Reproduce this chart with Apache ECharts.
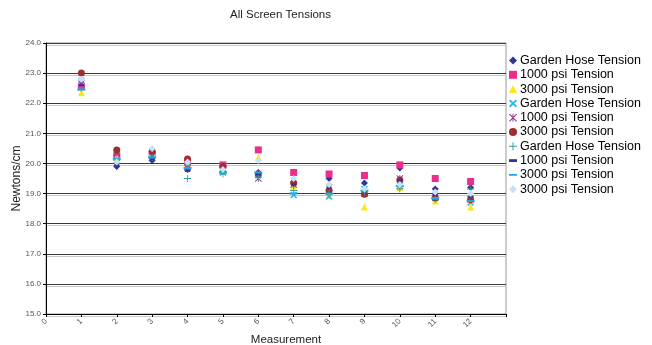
<!DOCTYPE html>
<html><head><meta charset="utf-8">
<script src="https://cdn.jsdelivr.net/npm/echarts@6/dist/echarts.min.js"></script>
<style>html,body{margin:0;padding:0;background:#fff;overflow:hidden}#c{width:652px;height:345px}</style>
</head><body><div id="c"></div>
<script>
const measurements = [1,2,3,4,5,6,7,8,9,10,11,12];
const xTickLabels = ['0','1','2','3','4','5','6','7','8','9','10','11','12'];
const seriesNames = ['Garden Hose Tension','1000 psi Tension','3000 psi Tension','Garden Hose Tension','1000 psi Tension','3000 psi Tension','Garden Hose Tension','1000 psi Tension','3000 psi Tension','3000 psi Tension'];
const gardenDiamond = [22.6, 19.9, 20.1, 19.8, 19.75, 19.7, 19.35, 19.5, 19.35, 19.85, 19.15, 19.2];
const psi1000Square = [22.55, 20.25, 20.3, 20.05, 19.95, 20.45, 19.7, 19.65, 19.6, 19.95, 19.5, 19.4];
const psi3000Triangle = [22.35, 20.2, 20.35, 20.0, 19.75, 20.2, 19.25, 18.95, 18.55, 19.2, 18.75, 18.55];
const gardenX = [22.75, 20.1, 20.3, 19.9, 19.7, 19.6, 18.95, 18.9, 19.15, 19.25, 18.85, 18.7];
const psi1000Star = [22.65, 20.35, 20.25, 19.85, 19.8, 19.5, 19.3, 19.2, 19.0, 19.5, 18.9, 18.8];
const psi3000Circle = [23.0, 20.45, 20.4, 20.15, 19.9, 19.65, 19.35, 19.1, 18.98, 19.45, 18.85, 18.8];
const gardenPlus = [22.5, 20.1, 20.2, 19.5, 19.65, 19.55, 19.1, 19.0, 19.05, 19.15, 18.8, 19.15];
const psi1000Dash = [22.6, 19.95, 20.15, 19.75, 19.75, 19.65, 19.3, 19.2, 19.1, 19.45, 18.95, 18.9];
const psi3000LongDash = [22.45, 20.15, 20.2, 19.85, 19.7, 19.7, 19.0, 19.0, 19.1, 19.25, 18.85, 18.75];
const psi3000LightDiamond = [22.8, 20.05, 20.5, 20.05, 19.8, 20.1, 19.5, 19.3, 19.15, 19.3, 19.05, 19.0];

const allValues = [gardenDiamond, psi1000Square, psi3000Triangle, gardenX, psi1000Star, psi3000Circle, gardenPlus, psi1000Dash, psi3000LongDash, psi3000LightDiamond];

const X_PATH = 'path://M0,1.6L1.6,0L10,8.4L8.4,10Z M8.4,0L10,1.6L1.6,10L0,8.4Z';
const STAR_PATH = 'path://M0,1L1,0L10,9L9,10Z M9,0L10,1L1,10L0,9Z M4.4,0H5.6V10H4.4Z';
const PLUS_PATH = 'path://M4.4,0H5.6V4.4H10V5.6H5.6V10H4.4V5.6H0V4.4H4.4Z';
const SHORT_DASH = 'path://M0,0H10V3.5H0Z';
const LONG_DASH = 'path://M0,0H10V2.2H0Z';
const styles = [
  {color:'#333399', symbol:'diamond', size:7, icon:'diamond'},
  {color:'#EC2D8C', symbol:'rect', size:7, icon:'rect'},
  {color:'#FFE61A', symbol:'triangle', size:7, icon:'triangle'},
  {color:'#2BB8EC', symbol:X_PATH, size:7, icon:X_PATH},
  {color:'#9A3A9A', symbol:STAR_PATH, size:7, icon:STAR_PATH},
  {color:'#9B3030', symbol:'circle', size:7, icon:'circle'},
  {color:'#2E9E9E', symbol:PLUS_PATH, size:7, icon:PLUS_PATH},
  {color:'#333399', symbol:SHORT_DASH, size:[5,2], icon:SHORT_DASH},
  {color:'#1FA8E4', symbol:LONG_DASH, size:[8,2], icon:LONG_DASH},
  {color:'#C7E3F3', symbol:'diamond', size:7, icon:'diamond'}
];

const series = allValues.map((vals, i) => ({
  name: seriesNames[i] + '#' + i,
  type: 'scatter',
  data: measurements.map((m, j) => [m, vals[j]]),
  symbol: styles[i].symbol,
  symbolSize: styles[i].size,
  symbolKeepAspect: false,
  itemStyle: {color: styles[i].color, opacity: 1},
  emphasis: {disabled: true}
}));

const chart = echarts.init(document.getElementById('c'), null, {renderer:'canvas'});
chart.setOption({
  animation: false,
  textStyle: {fontFamily: 'Liberation Sans, Arial, sans-serif'},
  title: {text: 'All Screen Tensions', left: 225, top: 4,
    textStyle: {fontSize: 11.5, fontWeight: 'normal', color: '#222', fontFamily: 'Liberation Sans, Arial, sans-serif'}},
  legend: {
    orient: 'vertical', left: 507, top: 52, itemGap: 1.3, itemWidth: 8, itemHeight: 8, padding: 2,
    textStyle: {fontSize: 12.5, color: '#000', padding: [0,0,0,-2], lineHeight: 11},
    formatter: n => n.split('#')[0],
    data: series.map((s, i) => ({name: s.name, icon: styles[i].icon, itemStyle: {color: styles[i].color}})),
    selectedMode: false
  },
  grid: {left: 46, right: 146, top: 43, bottom: 31, outerBoundsMode: 'none', containLabel: false,
    show: true, borderColor: '#999', borderWidth: 1},
  xAxis: {
    type: 'value', min: 0, max: 13, interval: 1,
    name: 'Measurement', nameLocation: 'middle', nameGap: 20, nameMoveOverlap: false,
    nameTextStyle: {fontSize: 11.5, color: '#222', padding: [0,0,0,20]},
    axisLine: {lineStyle: {color: '#000', width: 1}},
    axisTick: {show: true, length: 3, lineStyle: {color: '#000'}},
    axisLabel: {fontSize: 8, color: '#555', rotate: 45, margin: 6,
      formatter: v => (v <= 12 ? xTickLabels[v] : '')},
    splitLine: {show: false}
  },
  yAxis: {
    type: 'value', min: 15, max: 24, interval: 1,
    name: 'Newtons/cm', nameLocation: 'middle', nameGap: 23, nameMoveOverlap: false,
    nameTextStyle: {fontSize: 12, color: '#222'},
    axisLine: {show: true, lineStyle: {color: '#000', width: 1}},
    axisTick: {show: true, length: 3, lineStyle: {color: '#000'}},
    axisLabel: {fontSize: 8, color: '#555', margin: 5, formatter: v => v.toFixed(1)},
    splitLine: {show: true, lineStyle: {color: '#3a3a3a', width: 1.2, shadowColor: '#c8c8c8', shadowOffsetY: 2, shadowBlur: 0}}
  },
  series: series
});
</script></body></html>
